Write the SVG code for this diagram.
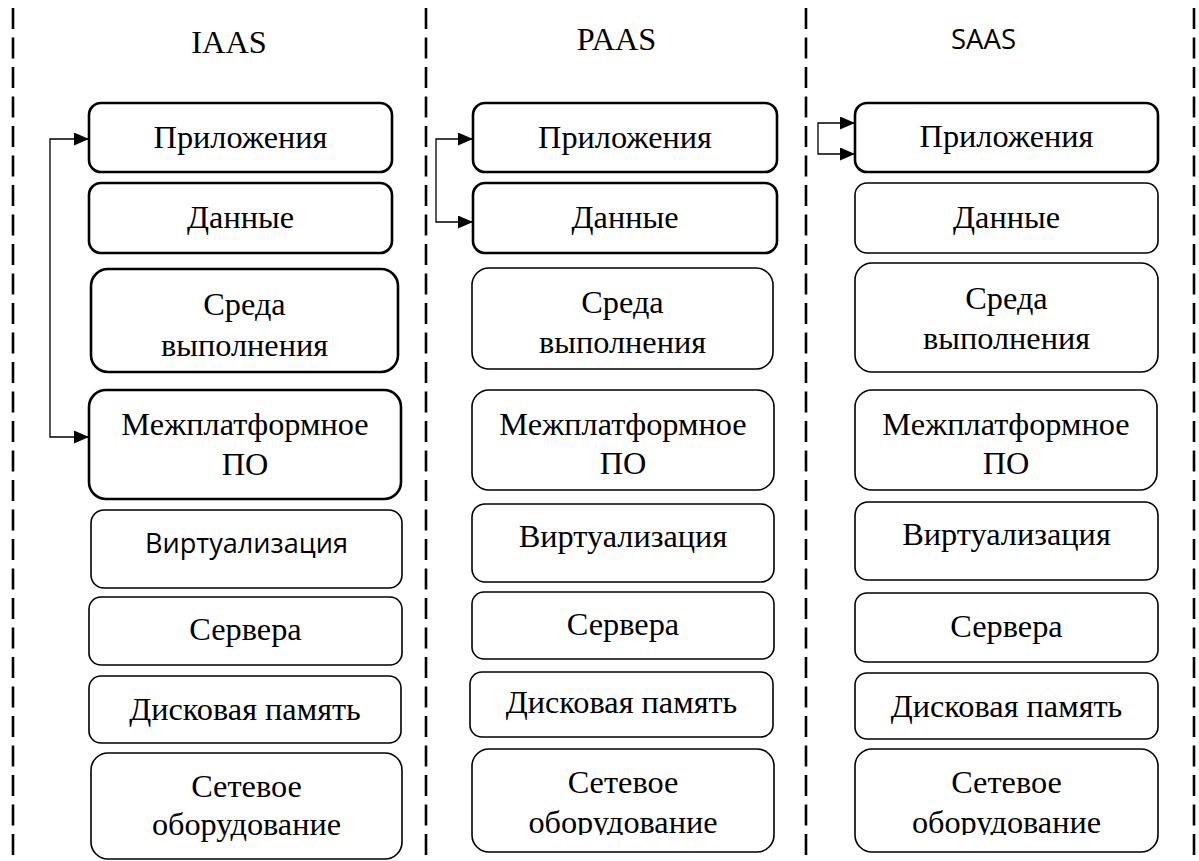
<svg xmlns="http://www.w3.org/2000/svg" width="1199" height="861" viewBox="0 0 1199 861">
  <style>
    .bg { fill: #ffffff; }
    .sep { stroke: #000; stroke-width: 2.6; stroke-dasharray: 21 8.5; fill: none; }
    .box { fill: #ffffff; stroke: #000; stroke-width: 1.6; }
    .box.hl { stroke-width: 2.6; }
    text { fill: #000; text-anchor: middle; }
    .lbl { font-family: "Liberation Serif", "Times New Roman", serif; font-size: 32.3px; }
    .sans { font-family: "Open Sans", "Liberation Sans", sans-serif; font-size: 27px; }
    .link { fill: none; stroke: #000; stroke-width: 1.3; marker-start: url(#head); marker-end: url(#head); }
  </style>
  <defs>
    <marker id="head" viewBox="0 0 15 13" refX="15" refY="6.5" markerWidth="15" markerHeight="13" markerUnits="userSpaceOnUse" orient="auto-start-reverse">
      <path d="M0,0 L15,6.5 L0,13 z" fill="#000"/>
    </marker>
    <clipPath id="clipPaas"><rect x="470" y="745" width="310" height="90"/></clipPath>
    <clipPath id="clipSaas"><rect x="850" y="745" width="310" height="90"/></clipPath>
  </defs>

  <rect class="bg" x="0" y="0" width="1199" height="861"/>

  <!-- column separators -->
  <g id="separators">
    <line class="sep" x1="13" y1="8" x2="13" y2="861"/>
    <line class="sep" x1="426" y1="8" x2="426" y2="861"/>
    <line class="sep" x1="806" y1="8" x2="806" y2="861"/>
    <line class="sep" x1="1194" y1="8" x2="1194" y2="861"/>
  </g>

  <!-- column headings -->
  <g id="headings">
    <text class="lbl" x="229" y="53">IAAS</text>
    <text class="lbl" x="616.5" y="50">PAAS</text>
    <text class="sans" x="983.5" y="49" font-size="28" style="font-size:28px" textLength="65" lengthAdjust="spacingAndGlyphs">SAAS</text>
  </g>

  <!-- IAAS column -->
  <g id="iaas-apps"><rect class="box hl" x="89" y="103" width="303" height="69" rx="12"/><text class="lbl" x="240.5" y="148">Приложения</text></g>
  <g id="iaas-data"><rect class="box hl" x="89" y="183" width="303" height="70" rx="12"/><text class="lbl" x="240.5" y="228">Данные</text></g>
  <g id="iaas-runtime"><rect class="box hl" x="91" y="269" width="307" height="103" rx="17"/><text class="lbl" x="244.5" y="315">Среда</text><text class="lbl" x="244.5" y="356">выполнения</text></g>
  <g id="iaas-middleware"><rect class="box hl" x="89" y="390" width="312" height="109" rx="17"/><text class="lbl" x="245" y="435">Межплатформное</text><text class="lbl" x="245" y="475">ПО</text></g>
  <g id="iaas-virt"><rect class="box" x="91" y="510" width="311" height="78" rx="13"/><text class="sans" x="246.5" y="553" textLength="203" lengthAdjust="spacingAndGlyphs">Виртуализация</text></g>
  <g id="iaas-servers"><rect class="box" x="89" y="597" width="313" height="68" rx="12"/><text class="lbl" x="245.5" y="640">Сервера</text></g>
  <g id="iaas-storage"><rect class="box" x="89" y="676" width="312" height="67" rx="12"/><text class="lbl" x="245" y="720">Дисковая память</text></g>
  <g id="iaas-network"><rect class="box" x="91" y="753" width="311" height="106" rx="17"/><text class="lbl" x="246.5" y="797">Сетевое</text><text class="lbl" x="246.5" y="835">оборудование</text></g>

  <!-- PAAS column -->
  <g id="paas-apps"><rect class="box hl" x="473" y="103" width="304" height="69" rx="12"/><text class="lbl" x="625" y="148">Приложения</text></g>
  <g id="paas-data"><rect class="box hl" x="473" y="183" width="304" height="70" rx="12"/><text class="lbl" x="625" y="228">Данные</text></g>
  <g id="paas-runtime"><rect class="box" x="472" y="268" width="301" height="101" rx="17"/><text class="lbl" x="622.5" y="313">Среда</text><text class="lbl" x="622.5" y="353">выполнения</text></g>
  <g id="paas-middleware"><rect class="box" x="472" y="390" width="302" height="100" rx="17"/><text class="lbl" x="623" y="435">Межплатформное</text><text class="lbl" x="623" y="474">ПО</text></g>
  <g id="paas-virt"><rect class="box" x="472" y="504" width="302" height="78" rx="13"/><text class="lbl" x="623" y="547">Виртуализация</text></g>
  <g id="paas-servers"><rect class="box" x="472" y="592" width="302" height="67" rx="12"/><text class="lbl" x="623" y="635">Сервера</text></g>
  <g id="paas-storage"><rect class="box" x="470" y="672" width="303" height="65" rx="12"/><text class="lbl" x="621.5" y="713">Дисковая память</text></g>
  <g id="paas-network"><rect class="box" x="472" y="749" width="302" height="103" rx="17"/><text class="lbl" x="623" y="793">Сетевое</text><text class="lbl" x="623" y="833" clip-path="url(#clipPaas)">оборудование</text></g>

  <!-- SAAS column -->
  <g id="saas-apps"><rect class="box hl" x="855" y="103" width="303" height="69" rx="12"/><text class="lbl" x="1006.5" y="147">Приложения</text></g>
  <g id="saas-data"><rect class="box" x="855" y="183" width="303" height="70" rx="12"/><text class="lbl" x="1006.5" y="228">Данные</text></g>
  <g id="saas-runtime"><rect class="box" x="855" y="263" width="303" height="109" rx="17"/><text class="lbl" x="1006.5" y="309">Среда</text><text class="lbl" x="1006.5" y="349">выполнения</text></g>
  <g id="saas-middleware"><rect class="box" x="855" y="390" width="302" height="100" rx="17"/><text class="lbl" x="1006" y="435">Межплатформное</text><text class="lbl" x="1006" y="474">ПО</text></g>
  <g id="saas-virt"><rect class="box" x="855" y="502" width="303" height="78" rx="13"/><text class="lbl" x="1006.5" y="545">Виртуализация</text></g>
  <g id="saas-servers"><rect class="box" x="855" y="593" width="303" height="69" rx="12"/><text class="lbl" x="1006.5" y="637">Сервера</text></g>
  <g id="saas-storage"><rect class="box" x="855" y="673" width="303" height="66" rx="12"/><text class="lbl" x="1006.5" y="717">Дисковая память</text></g>
  <g id="saas-network"><rect class="box" x="855" y="749" width="303" height="103" rx="17"/><text class="lbl" x="1006.5" y="793">Сетевое</text><text class="lbl" x="1006.5" y="833" clip-path="url(#clipSaas)">оборудование</text></g>

  <!-- bracket connectors -->
  <g id="connectors">
    <path class="link" d="M89,139 H50 V437 H89"/>
    <path class="link" d="M473,139 H436 V222 H473"/>
    <path class="link" d="M855,123 H818 V154 H855"/>
  </g>
</svg>
